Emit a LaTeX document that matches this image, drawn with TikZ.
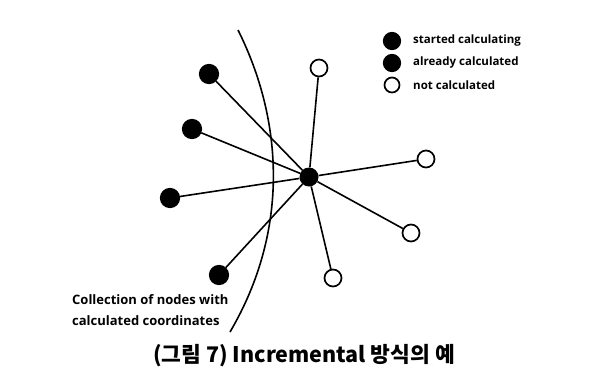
\documentclass[tikz,border=0pt]{standalone}
\usepackage{fontspec}
\setmainfont{Open Sans}
\newfontfamily\cjk{Noto Sans CJK KR}
\begin{document}
\begin{tikzpicture}[x=1pt,y=-1pt,
  full/.style={circle,fill=black,draw=black,line width=1.2pt,minimum size=19pt,inner sep=0pt},
  hollow/.style={circle,fill=white,draw=black,line width=1.7pt,minimum size=17pt,inner sep=0pt},
  hub/.style={circle,fill=black,minimum size=19pt,inner sep=0pt},
  edge/.style={line width=1.6pt},
  legtext/.style={anchor=west,font=\bfseries\fontsize{11.5}{13}\selectfont,inner sep=0pt},
  lbl/.style={anchor=west,font=\bfseries\fontsize{13}{15}\selectfont,inner sep=0pt}]
\useasboundingbox (0,0) rectangle (605,383);
\fill[white] (0,0) rectangle (605,383);
% boundary curve
\draw[line width=1.6pt] (238,30) .. controls (283,120) and (290,230) .. (230,332);
% nodes
\node[hub] (c) at (309,177) {};
\node[full] (f1) at (209,74) {};
\node[full] (f2) at (192,129) {};
\node[full] (f3) at (170,198) {};
\node[full] (f4) at (219,275) {};
\node[hollow] (h1) at (319,68) {};
\node[hollow] (h2) at (426,159) {};
\node[hollow] (h3) at (411,233) {};
\node[hollow] (h4) at (333,278) {};
\foreach \n in {f1,f2,f3,f4,h1,h2,h3,h4} \draw[edge] (c) -- (\n);
% legend
\node[full,minimum size=17pt] (l1) at (392,41) {};
\node[full,minimum size=17pt] (l2) at (392,63) {};
\node[hollow,minimum size=15pt] (l3) at (392,85) {};
\node[legtext] (t1) at (413,41) {started calculating};
\node[legtext] (t2) at (413,63) {already calculated};
\node[legtext] (t3) at (413,85) {not calculated};
% label
\node[lbl] (la) at (72,300) {Collection of nodes with};
\node[lbl] (lb) at (72,321) {calculated coordinates};
% caption
\node[font=\cjk\bfseries\fontsize{21.5}{24}\selectfont,inner sep=0pt] (cap) at (304,356) {(그림 7) Incremental 방식의 예};
\end{tikzpicture}
\end{document}
